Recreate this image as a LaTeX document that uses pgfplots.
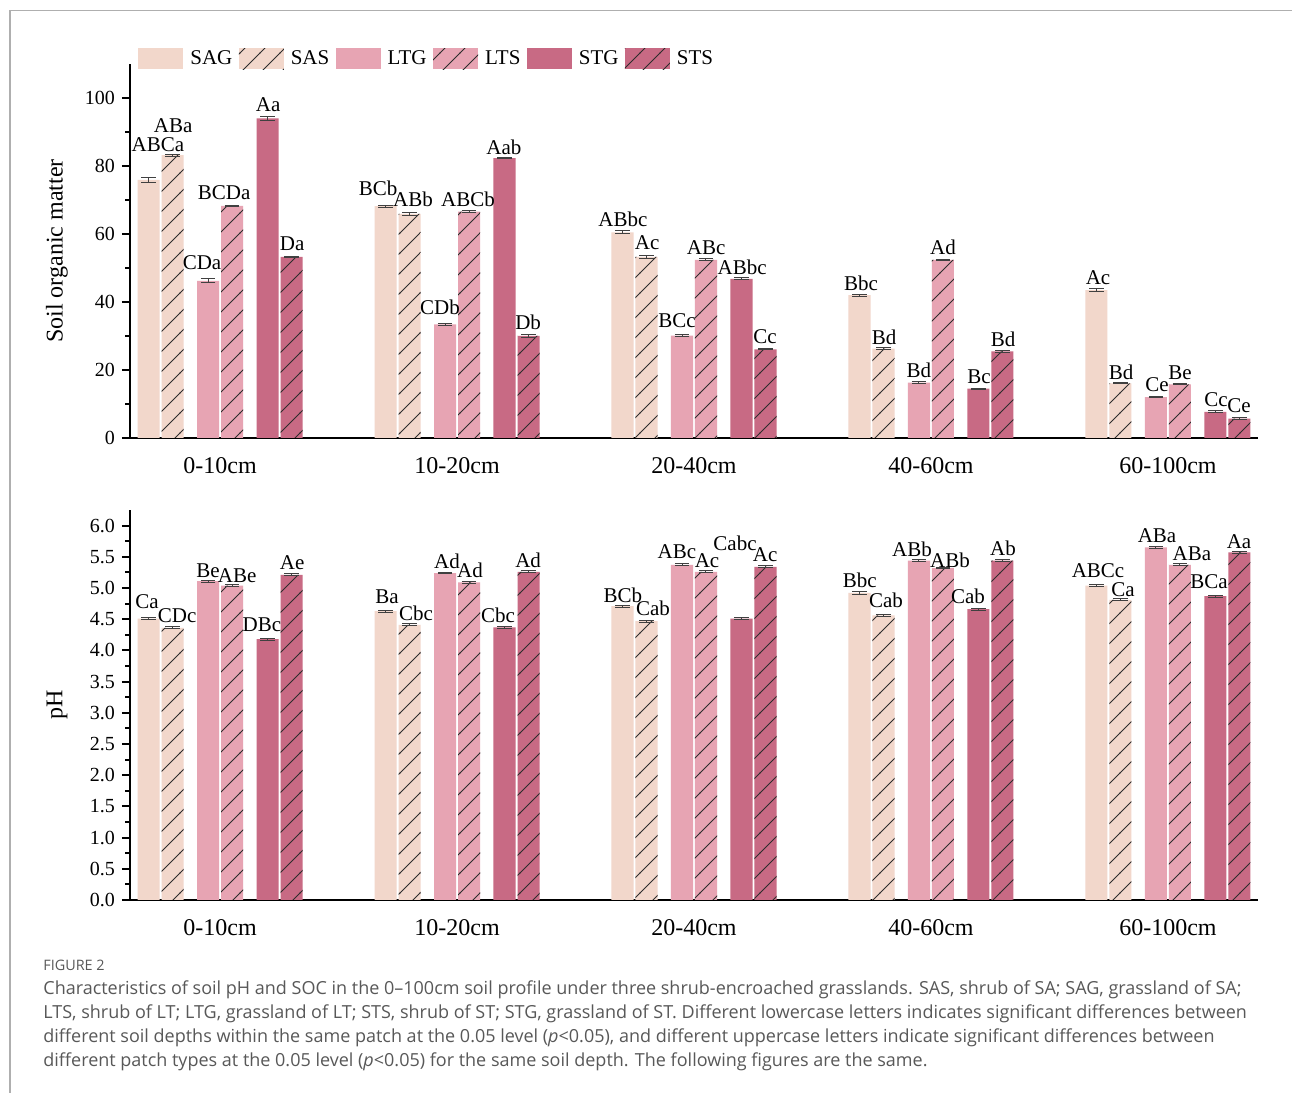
\documentclass[border=0pt]{standalone}
\usepackage{fontspec}
\setmainfont{Liberation Serif}
\newfontfamily\capfont{Open Sans}
\usepackage{pgfplots}
\usepackage{pgfplotstable}
\pgfplotsset{compat=1.18}
\usetikzlibrary{patterns}

\pgfdeclarepatternformonly{sparse ne}{\pgfqpoint{-1pt}{-1pt}}{\pgfqpoint{11pt}{11pt}}{\pgfqpoint{10pt}{10pt}}{%
  \pgfsetlinewidth{0.45pt}\pgfpathmoveto{\pgfqpoint{-0.1pt}{-0.1pt}}\pgfpathlineto{\pgfqpoint{10.1pt}{10.1pt}}\pgfusepath{stroke}}

\definecolor{cSA}{RGB}{242,215,203}
\definecolor{cLT}{RGB}{231,164,179}
\definecolor{cST}{RGB}{200,106,132}
\definecolor{hatch}{RGB}{45,45,45}
\definecolor{capgray}{RGB}{88,88,88}
\definecolor{framegray}{RGB}{175,175,175}

% Soil organic matter
\pgfplotstableread{
x y e
0 75.9 0.8
1 68.2 0.3
2 60.5 0.5
3 42.0 0.3
4 43.5 0.4
}\somSAG
\pgfplotstableread{
x y e
0 83.2 0.3
1 65.9 0.5
2 53.3 0.5
3 26.3 0.4
4 16.1 0.2
}\somSAS
\pgfplotstableread{
x y e
0 46.2 0.6
1 33.4 0.2
2 30.1 0.2
3 16.3 0.2
4 12.0 0.2
}\somLTG
\pgfplotstableread{
x y e
0 68.3 0.2
1 66.6 0.2
2 52.4 0.3
3 52.4 0.2
4 15.8 0.2
}\somLTS
\pgfplotstableread{
x y e
0 94.0 0.6
1 82.3 0.2
2 46.8 0.3
3 14.5 0.2
4 7.7 0.3
}\somSTG
\pgfplotstableread{
x y e
0 53.3 0.2
1 30.0 0.4
2 26.1 0.2
3 25.5 0.3
4 5.7 0.2
}\somSTS

% pH
\pgfplotstableread{
x y e
0 4.51 0.015
1 4.63 0.015
2 4.71 0.015
3 4.92 0.02
4 5.04 0.015
}\phSAG
\pgfplotstableread{
x y e
0 4.36 0.015
1 4.41 0.015
2 4.47 0.015
3 4.56 0.015
4 4.81 0.015
}\phSAS
\pgfplotstableread{
x y e
0 5.11 0.015
1 5.24 0.015
2 5.37 0.015
3 5.44 0.015
4 5.65 0.02
}\phLTG
\pgfplotstableread{
x y e
0 5.04 0.015
1 5.09 0.015
2 5.26 0.015
3 5.32 0.015
4 5.37 0.015
}\phLTS
\pgfplotstableread{
x y e
0 4.18 0.015
1 4.37 0.015
2 4.51 0.015
3 4.66 0.015
4 4.87 0.015
}\phSTG
\pgfplotstableread{
x y e
0 5.21 0.015
1 5.26 0.015
2 5.34 0.015
3 5.44 0.02
4 5.57 0.015
}\phSTS

\pgfplotsset{
  barbase/.style={bar width=0.093, draw=none,
    error bars/y dir=both, error bars/y explicit,
    error bars/error bar style={draw=black!75, line width=0.5pt},
    error bars/error mark options={rotate=90, mark size=3.6pt, draw=black!75, line width=0.5pt}},
  hatched/.style={postaction={pattern=sparse ne, pattern color=hatch}},
  myaxis/.style={
    ybar,
    scale only axis, width=564pt,
    xmin=-0.38, xmax=4.38,
    axis x line*=bottom, axis y line*=left,
    axis line style={-, line width=1pt},
    xtick={0,1,2,3,4},
    xticklabels={0-10cm,10-20cm,20-40cm,40-60cm,60-100cm},
    xticklabel style={font=\fontsize{12}{14}\selectfont, yshift=-2pt},
    tick align=outside,
    major tick length=4pt, minor tick length=2.5pt,
    tick style={line width=1pt, black},
    xtick style={draw=none},
    minor y tick num=1,
    yticklabel style={font=\fontsize{10}{12}\selectfont},
    /pgf/number format/assume math mode=true,
    every axis y label/.style={at={(axis description cs:0,0.5)}, xshift=-36.5pt, rotate=90, anchor=center, font=\fontsize{12}{14}\selectfont},
    clip=false,
  },
}
\tikzset{lab/.style={font=\fontsize{10.5}{12}\selectfont, inner sep=0pt, anchor=center}}
\newcommand{\lab}[3]{\node[lab] at (axis cs:#1,#2) {#3};}

\begin{document}
\begin{tikzpicture}
\useasboundingbox (0,0) rectangle (646pt,546.5pt);
\fill[white] (0,0) rectangle (646pt,546.5pt);
\draw[framegray, line width=0.6pt] (5pt,-1pt) -- (5pt,541.25pt) -- (650pt,541.25pt);

% ---------------- top: soil organic matter
\begin{axis}[myaxis,
  at={(65pt,327.5pt)}, anchor=south west, height=187pt,
  ymin=0, ymax=110, ytick={0,20,40,60,80,100},
  ylabel={Soil organic matter},
  legend columns=6,
  legend style={at={(axis description cs:0,1)}, anchor=west, xshift=4pt, yshift=2.5pt,
    draw=none, fill=none, inner sep=0pt, font=\fontsize{10.5}{12}\selectfont,
    /tikz/every even column/.append style={column sep=1.2pt}},
  legend image code/.code={\draw[#1,draw=none] (0pt,-5.25pt) rectangle (22.5pt,5.25pt); \path (24pt,0pt);},
]
\addplot[barbase, bar shift=-0.3017, fill=cSA] table[x=x,y=y,y error=e] {\somSAG};
\addplot[barbase, bar shift=-0.2004, fill=cSA, hatched] table[x=x,y=y,y error=e] {\somSAS};
\addplot[barbase, bar shift=-0.0506, fill=cLT] table[x=x,y=y,y error=e] {\somLTG};
\addplot[barbase, bar shift=0.0506, fill=cLT, hatched] table[x=x,y=y,y error=e] {\somLTS};
\addplot[barbase, bar shift=0.2004, fill=cST] table[x=x,y=y,y error=e] {\somSTG};
\addplot[barbase, bar shift=0.3017, fill=cST, hatched] table[x=x,y=y,y error=e] {\somSTS};
\legend{SAG,SAS,LTG,LTS,STG,STS}
\lab{-0.262}{86.2}{ABCa}
\lab{-0.198}{91.8}{ABa}
\lab{-0.076}{51.5}{CDa}
\lab{0.017}{72.1}{BCDa}
\lab{0.203}{97.9}{Aa}
\lab{0.304}{57.1}{Da}
\lab{0.667}{73.5}{BCb}
\lab{0.814}{70.3}{ABb}
\lab{0.928}{38.5}{CDb}
\lab{1.046}{70.3}{ABCb}
\lab{1.198}{85.6}{Aab}
\lab{1.300}{34.1}{Db}
\lab{1.700}{64.4}{ABbc}
\lab{1.802}{57.4}{Ac}
\lab{1.928}{34.4}{BCc}
\lab{2.051}{55.9}{ABc}
\lab{2.203}{50.3}{ABbc}
\lab{2.300}{29.7}{Cc}
\lab{2.705}{45.6}{Bbc}
\lab{2.802}{29.7}{Bd}
\lab{2.949}{20.0}{Bd}
\lab{3.051}{56.2}{Ad}
\lab{3.203}{17.9}{Bc}
\lab{3.304}{29.1}{Bd}
\lab{3.705}{47.1}{Ac}
\lab{3.802}{19.4}{Bd}
\lab{3.954}{15.6}{Ce}
\lab{4.051}{19.1}{Be}
\lab{4.203}{11.2}{Cc}
\lab{4.300}{9.4}{Ce}
\end{axis}

% ---------------- bottom: pH
\begin{axis}[myaxis,
  at={(65pt,96.5pt)}, anchor=south west, height=195pt,
  ymin=0, ymax=6.25,
  ytick={0,0.5,1,1.5,2,2.5,3,3.5,4,4.5,5,5.5,6},
  yticklabel style={/pgf/number format/.cd, fixed, fixed zerofill, precision=1},
  ylabel={pH},
]
\addplot[barbase, bar shift=-0.3017, fill=cSA] table[x=x,y=y,y error=e] {\phSAG};
\addplot[barbase, bar shift=-0.2004, fill=cSA, hatched] table[x=x,y=y,y error=e] {\phSAS};
\addplot[barbase, bar shift=-0.0506, fill=cLT] table[x=x,y=y,y error=e] {\phLTG};
\addplot[barbase, bar shift=0.0506, fill=cLT, hatched] table[x=x,y=y,y error=e] {\phLTS};
\addplot[barbase, bar shift=0.2004, fill=cST] table[x=x,y=y,y error=e] {\phSTG};
\addplot[barbase, bar shift=0.3017, fill=cST, hatched] table[x=x,y=y,y error=e] {\phSTS};
\lab{-0.308}{4.78}{Ca}
\lab{-0.181}{4.56}{CDc}
\lab{-0.051}{5.28}{Be}
\lab{0.072}{5.20}{ABe}
\lab{0.177}{4.41}{DBc}
\lab{0.304}{5.41}{Ae}
\lab{0.705}{4.86}{Ba}
\lab{0.827}{4.60}{Cbc}
\lab{0.958}{5.42}{Ad}
\lab{1.055}{5.28}{Ad}
\lab{1.173}{4.57}{Cbc}
\lab{1.300}{5.45}{Ad}
\lab{1.700}{4.89}{BCb}
\lab{1.827}{4.68}{Cab}
\lab{1.928}{5.58}{ABc}
\lab{2.055}{5.44}{Ac}
\lab{2.173}{5.71}{Cabc}
\lab{2.300}{5.54}{Ac}
\lab{2.700}{5.12}{Bbc}
\lab{2.810}{4.80}{Cab}
\lab{2.920}{5.62}{ABb}
\lab{3.080}{5.45}{ABb}
\lab{3.156}{4.86}{Cab}
\lab{3.304}{5.63}{Ab}
\lab{3.705}{5.28}{ABCc}
\lab{3.810}{4.97}{Ca}
\lab{3.954}{5.84}{ABa}
\lab{4.101}{5.55}{ABa}
\lab{4.173}{5.10}{BCa}
\lab{4.300}{5.74}{Aa}
\end{axis}

% ---------------- caption
\node[anchor=base west, inner sep=0pt, text=capgray, font=\capfont\fontsize{7.2}{8}\selectfont] at (21.5pt,61pt) {FIGURE 2};
\begin{scope}[every node/.style={anchor=base west, inner sep=0pt, text=capgray, font=\capfont\fontsize{9.0}{10}\selectfont}]
\node at (21.5pt,49pt) {Characteristics of soil pH and SOC in the 0–100cm soil profile under three shrub-encroached grasslands. SAS, shrub of SA; SAG, grassland of SA;};
\node at (21.5pt,37pt) {LTS, shrub of LT; LTG, grassland of LT; STS, shrub of ST; STG, grassland of ST. Different lowercase letters indicates significant differences between};
\node at (21.5pt,25pt) {different soil depths within the same patch at the 0.05 level (\textit{p}<0.05), and different uppercase letters indicate significant differences between};
\node at (21.5pt,13pt) {different patch types at the 0.05 level (\textit{p}<0.05) for the same soil depth. The following figures are the same.};
\end{scope}
\end{tikzpicture}
\end{document}
